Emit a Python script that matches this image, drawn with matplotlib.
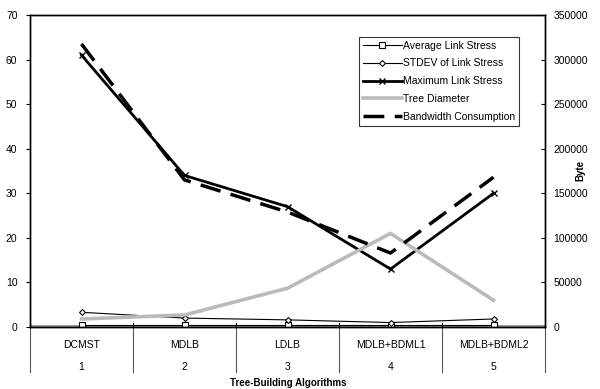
import matplotlib.pyplot as plt
import matplotlib.transforms as mtransforms

plt.rcParams['font.family'] = ['Liberation Sans', 'DejaVu Sans']

# 数据
names = ['DCMST', 'MDLB', 'LDLB', 'MDLB+BDML1', 'MDLB+BDML2']
idx = [1, 2, 3, 4, 5]
avg_stress = [0.5, 0.5, 0.5, 0.5, 0.5]
stdev_stress = [3.3, 2.0, 1.6, 1.0, 1.8]
max_stress = [61, 34, 27, 13, 30]
tree_diam = [1.8, 2.7, 8.7, 21, 6]
bandwidth = [317500, 165000, 129000, 83000, 168000]

fig = plt.figure(figsize=(6, 3.89), dpi=100)
ax = fig.add_axes([30 / 600, 62 / 389, 515 / 600, 312 / 389])
ax2 = ax.twinx()

# 零线上方的灰色带
ax.axhspan(0, 0.45, color='#999999', lw=0)
ax.plot(idx, avg_stress, color='black', lw=0.8, marker='s', ms=4,
        mfc='white', mec='black', mew=0.8, label='Average Link Stress')
ax.plot(idx, stdev_stress, color='black', lw=0.8, marker='D', ms=3,
        mfc='white', mec='black', mew=0.8, label='STDEV of Link Stress')
ax.plot(idx, max_stress, color='black', lw=2, marker='x', ms=4,
        mew=1, label='Maximum Link Stress')
ax.plot(idx, tree_diam, color='#bababa', lw=2.6, label='Tree Diameter')
l5, = ax2.plot(idx, bandwidth, color='black', lw=2.5, dashes=(6, 3),
               label='Bandwidth Consumption')

ax.set_xlim(0.5, 5.5)
ax.set_ylim(0, 70)
ax2.set_ylim(0, 350000)
ax.set_yticks(range(0, 71, 10))
ax2.set_yticks(range(0, 350001, 50000))
ax.set_xticks([])
ax.tick_params(axis='y', direction='out', length=3, labelsize=7.5, pad=6)
ax2.tick_params(axis='y', direction='in', length=3, labelsize=7.5, pad=6)
for a in (ax, ax2):
    for s in a.spines.values():
        s.set_linewidth(1)

# 分类轴
trans = mtransforms.blended_transform_factory(ax.transData, ax.transAxes)
for x in [0.5, 1.5, 2.5, 3.5, 4.5, 5.5]:
    ax.plot([x, x], [0, -0.145], color='#555555', lw=0.8,
            transform=trans, clip_on=False)
    ax.plot([x, x], [0, 0.012], color='black', lw=0.8,
            transform=trans, clip_on=False)
for i, n in zip(idx, names):
    ax.text(i, -0.058, n, transform=trans, ha='center', va='center', fontsize=7.5)
    ax.text(i, -0.128, str(i), transform=trans, ha='center', va='center', fontsize=7.5)

fig.text(288 / 600, 1 - 383 / 389, 'Tree-Building Algorithms', ha='center',
         va='center', fontsize=7, fontweight='bold')
fig.text(580 / 600, 1 - 170 / 389, 'Byte', ha='center', va='center',
         rotation=90, fontsize=7, fontweight='bold')

h, lab = ax.get_legend_handles_labels()
leg = ax2.legend(h + [l5], lab + [l5.get_label()], loc='upper left',
                 bbox_to_anchor=(329 / 515, 1 - 22 / 312), fontsize=7.5,
                 frameon=True, fancybox=False, edgecolor='black',
                 borderpad=0.35, labelspacing=0.75, handlelength=3.8,
                 handletextpad=0.1, borderaxespad=0)
leg.get_frame().set_linewidth(0.8)

fig.savefig('out.png', dpi=100)
